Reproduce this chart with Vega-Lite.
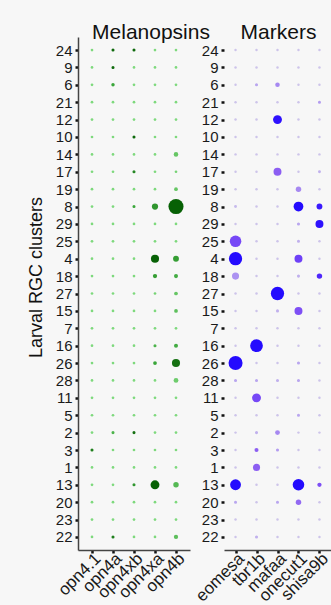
{
"$schema": "https://vega.github.io/schema/vega-lite/v6.json",
"background": "#f7f7f7",
"padding": {"left": 27, "top": 22, "right": 0, "bottom": 0},
"config": {"view": {"stroke": null}, "font": "Liberation Sans", "concat": {"spacing": 34},
  "axis": {"labelFontSize": 15, "labelColor": "#1a1a1a", "tickColor": "#111", "tickWidth": 2.5, "tickSize": 3, "domainColor": "#444", "domainWidth": 1.5, "labelPadding": 3, "grid": false},
  "title": {"fontSize": 21, "fontWeight": "normal", "color": "#111", "offset": -6}},
"datasets": {
"mel": [
{"c":"24","g":"opn4.1","p":1,"a":0.1},{"c":"24","g":"opn4a","p":2,"a":0.9},{"c":"24","g":"opn4xb","p":2,"a":0.9},{"c":"24","g":"opn4xa","p":1,"a":0.1},{"c":"24","g":"opn4b","p":1,"a":0.1},
{"c":"9","g":"opn4.1","p":1,"a":0.1},{"c":"9","g":"opn4a","p":2,"a":0.9},{"c":"9","g":"opn4xb","p":1,"a":0.1},{"c":"9","g":"opn4xa","p":1,"a":0.1},{"c":"9","g":"opn4b","p":1,"a":0.1},
{"c":"6","g":"opn4.1","p":1,"a":0.1},{"c":"6","g":"opn4a","p":3,"a":0.5},{"c":"6","g":"opn4xb","p":1,"a":0.1},{"c":"6","g":"opn4xa","p":1,"a":0.1},{"c":"6","g":"opn4b","p":1,"a":0.1},
{"c":"21","g":"opn4.1","p":1,"a":0.1},{"c":"21","g":"opn4a","p":1,"a":0.1},{"c":"21","g":"opn4xb","p":1,"a":0.1},{"c":"21","g":"opn4xa","p":1,"a":0.1},{"c":"21","g":"opn4b","p":1,"a":0.1},
{"c":"12","g":"opn4.1","p":1,"a":0.1},{"c":"12","g":"opn4a","p":1,"a":0.1},{"c":"12","g":"opn4xb","p":1,"a":0.1},{"c":"12","g":"opn4xa","p":1,"a":0.1},{"c":"12","g":"opn4b","p":1,"a":0.1},
{"c":"10","g":"opn4.1","p":1,"a":0.1},{"c":"10","g":"opn4a","p":1,"a":0.1},{"c":"10","g":"opn4xb","p":2,"a":0.9},{"c":"10","g":"opn4xa","p":1,"a":0.1},{"c":"10","g":"opn4b","p":1,"a":0.1},
{"c":"14","g":"opn4.1","p":1,"a":0.1},{"c":"14","g":"opn4a","p":1,"a":0.1},{"c":"14","g":"opn4xb","p":1,"a":0.1},{"c":"14","g":"opn4xa","p":1,"a":0.1},{"c":"14","g":"opn4b","p":7,"a":0.25},
{"c":"17","g":"opn4.1","p":1,"a":0.1},{"c":"17","g":"opn4a","p":1,"a":0.1},{"c":"17","g":"opn4xb","p":2,"a":0.7},{"c":"17","g":"opn4xa","p":1,"a":0.1},{"c":"17","g":"opn4b","p":1,"a":0.15},
{"c":"19","g":"opn4.1","p":1,"a":0.1},{"c":"19","g":"opn4a","p":1,"a":0.1},{"c":"19","g":"opn4xb","p":1,"a":0.1},{"c":"19","g":"opn4xa","p":1,"a":0.1},{"c":"19","g":"opn4b","p":4,"a":0.25},
{"c":"8","g":"opn4.1","p":1,"a":0.1},{"c":"8","g":"opn4a","p":1,"a":0.1},{"c":"8","g":"opn4xb","p":2,"a":0.5},{"c":"8","g":"opn4xa","p":15,"a":0.6},{"c":"8","g":"opn4b","p":99,"a":0.95},
{"c":"29","g":"opn4.1","p":1,"a":0.1},{"c":"29","g":"opn4a","p":1,"a":0.1},{"c":"29","g":"opn4xb","p":1,"a":0.1},{"c":"29","g":"opn4xa","p":1,"a":0.1},{"c":"29","g":"opn4b","p":1,"a":0.1},
{"c":"25","g":"opn4.1","p":1,"a":0.1},{"c":"25","g":"opn4a","p":1,"a":0.1},{"c":"25","g":"opn4xb","p":1,"a":0.1},{"c":"25","g":"opn4xa","p":1,"a":0.1},{"c":"25","g":"opn4b","p":1,"a":0.1},
{"c":"4","g":"opn4.1","p":1,"a":0.1},{"c":"4","g":"opn4a","p":1,"a":0.1},{"c":"4","g":"opn4xb","p":1,"a":0.1},{"c":"4","g":"opn4xa","p":27,"a":0.95},{"c":"4","g":"opn4b","p":13,"a":0.55},
{"c":"18","g":"opn4.1","p":1,"a":0.1},{"c":"18","g":"opn4a","p":1,"a":0.1},{"c":"18","g":"opn4xb","p":1,"a":0.1},{"c":"18","g":"opn4xa","p":6,"a":0.55},{"c":"18","g":"opn4b","p":5,"a":0.45},
{"c":"27","g":"opn4.1","p":1,"a":0.1},{"c":"27","g":"opn4a","p":1,"a":0.1},{"c":"27","g":"opn4xb","p":1,"a":0.1},{"c":"27","g":"opn4xa","p":1,"a":0.15},{"c":"27","g":"opn4b","p":4,"a":0.25},
{"c":"15","g":"opn4.1","p":1,"a":0.1},{"c":"15","g":"opn4a","p":1,"a":0.1},{"c":"15","g":"opn4xb","p":1,"a":0.1},{"c":"15","g":"opn4xa","p":1,"a":0.1},{"c":"15","g":"opn4b","p":4,"a":0.3},
{"c":"7","g":"opn4.1","p":1,"a":0.1},{"c":"7","g":"opn4a","p":1,"a":0.1},{"c":"7","g":"opn4xb","p":1,"a":0.1},{"c":"7","g":"opn4xa","p":1,"a":0.1},{"c":"7","g":"opn4b","p":1,"a":0.1},
{"c":"16","g":"opn4.1","p":1,"a":0.1},{"c":"16","g":"opn4a","p":1,"a":0.1},{"c":"16","g":"opn4xb","p":1,"a":0.1},{"c":"16","g":"opn4xa","p":2,"a":0.4},{"c":"16","g":"opn4b","p":5,"a":0.45},
{"c":"26","g":"opn4.1","p":1,"a":0.1},{"c":"26","g":"opn4a","p":1,"a":0.1},{"c":"26","g":"opn4xb","p":1,"a":0.1},{"c":"26","g":"opn4xa","p":4,"a":0.5},{"c":"26","g":"opn4b","p":27,"a":0.85},
{"c":"28","g":"opn4.1","p":1,"a":0.1},{"c":"28","g":"opn4a","p":1,"a":0.1},{"c":"28","g":"opn4xb","p":1,"a":0.1},{"c":"28","g":"opn4xa","p":1,"a":0.1},{"c":"28","g":"opn4b","p":8,"a":0.2},
{"c":"11","g":"opn4.1","p":1,"a":0.1},{"c":"11","g":"opn4a","p":1,"a":0.1},{"c":"11","g":"opn4xb","p":1,"a":0.1},{"c":"11","g":"opn4xa","p":1,"a":0.1},{"c":"11","g":"opn4b","p":1,"a":0.1},
{"c":"5","g":"opn4.1","p":1,"a":0.1},{"c":"5","g":"opn4a","p":1,"a":0.1},{"c":"5","g":"opn4xb","p":1,"a":0.1},{"c":"5","g":"opn4xa","p":1,"a":0.1},{"c":"5","g":"opn4b","p":1,"a":0.1},
{"c":"2","g":"opn4.1","p":1,"a":0.1},{"c":"2","g":"opn4a","p":2,"a":0.4},{"c":"2","g":"opn4xb","p":2,"a":0.85},{"c":"2","g":"opn4xa","p":1,"a":0.1},{"c":"2","g":"opn4b","p":1,"a":0.1},
{"c":"3","g":"opn4.1","p":2,"a":0.75},{"c":"3","g":"opn4a","p":1,"a":0.1},{"c":"3","g":"opn4xb","p":1,"a":0.1},{"c":"3","g":"opn4xa","p":1,"a":0.1},{"c":"3","g":"opn4b","p":1,"a":0.1},
{"c":"1","g":"opn4.1","p":1,"a":0.1},{"c":"1","g":"opn4a","p":1,"a":0.1},{"c":"1","g":"opn4xb","p":1,"a":0.1},{"c":"1","g":"opn4xa","p":1,"a":0.1},{"c":"1","g":"opn4b","p":1,"a":0.1},
{"c":"13","g":"opn4.1","p":1,"a":0.1},{"c":"13","g":"opn4a","p":1,"a":0.1},{"c":"13","g":"opn4xb","p":2,"a":0.6},{"c":"13","g":"opn4xa","p":33,"a":0.95},{"c":"13","g":"opn4b","p":11,"a":0.35},
{"c":"20","g":"opn4.1","p":1,"a":0.1},{"c":"20","g":"opn4a","p":1,"a":0.1},{"c":"20","g":"opn4xb","p":1,"a":0.1},{"c":"20","g":"opn4xa","p":1,"a":0.1},{"c":"20","g":"opn4b","p":1,"a":0.1},
{"c":"23","g":"opn4.1","p":1,"a":0.1},{"c":"23","g":"opn4a","p":1,"a":0.1},{"c":"23","g":"opn4xb","p":1,"a":0.1},{"c":"23","g":"opn4xa","p":1,"a":0.1},{"c":"23","g":"opn4b","p":1,"a":0.1},
{"c":"22","g":"opn4.1","p":1,"a":0.1},{"c":"22","g":"opn4a","p":2,"a":0.75},{"c":"22","g":"opn4xb","p":1,"a":0.1},{"c":"22","g":"opn4xa","p":1,"a":0.1},{"c":"22","g":"opn4b","p":6,"a":0.3}
],
"mark": [
{"c":"24","g":"eomesa","p":0.5,"a":0},{"c":"24","g":"tbr1b","p":0.5,"a":0},{"c":"24","g":"mafaa","p":0.5,"a":0},{"c":"24","g":"onecut1","p":0.5,"a":0},{"c":"24","g":"shisa9b","p":0.5,"a":0},
{"c":"9","g":"eomesa","p":0.5,"a":0},{"c":"9","g":"tbr1b","p":0.5,"a":0},{"c":"9","g":"mafaa","p":0.5,"a":0},{"c":"9","g":"onecut1","p":0.5,"a":0},{"c":"9","g":"shisa9b","p":0.5,"a":0},
{"c":"6","g":"eomesa","p":0.5,"a":0},{"c":"6","g":"tbr1b","p":2,"a":0.15},{"c":"6","g":"mafaa","p":7,"a":0.3},{"c":"6","g":"onecut1","p":0.5,"a":0},{"c":"6","g":"shisa9b","p":0.5,"a":0},
{"c":"21","g":"eomesa","p":0.5,"a":0},{"c":"21","g":"tbr1b","p":0.5,"a":0},{"c":"21","g":"mafaa","p":0.5,"a":0},{"c":"21","g":"onecut1","p":0.5,"a":0},{"c":"21","g":"shisa9b","p":2,"a":0.2},
{"c":"12","g":"eomesa","p":0.5,"a":0},{"c":"12","g":"tbr1b","p":0.5,"a":0},{"c":"12","g":"mafaa","p":33,"a":0.95},{"c":"12","g":"onecut1","p":0.5,"a":0},{"c":"12","g":"shisa9b","p":0.5,"a":0},
{"c":"10","g":"eomesa","p":0.5,"a":0},{"c":"10","g":"tbr1b","p":0.5,"a":0},{"c":"10","g":"mafaa","p":0.5,"a":0},{"c":"10","g":"onecut1","p":0.5,"a":0},{"c":"10","g":"shisa9b","p":0.5,"a":0},
{"c":"14","g":"eomesa","p":0.5,"a":0},{"c":"14","g":"tbr1b","p":0.5,"a":0},{"c":"14","g":"mafaa","p":0.5,"a":0},{"c":"14","g":"onecut1","p":0.5,"a":0},{"c":"14","g":"shisa9b","p":0.5,"a":0},
{"c":"17","g":"eomesa","p":0.5,"a":0},{"c":"17","g":"tbr1b","p":0.5,"a":0},{"c":"17","g":"mafaa","p":26,"a":0.5},{"c":"17","g":"onecut1","p":0.5,"a":0},{"c":"17","g":"shisa9b","p":1.5,"a":0.1},
{"c":"19","g":"eomesa","p":0.5,"a":0},{"c":"19","g":"tbr1b","p":0.5,"a":0},{"c":"19","g":"mafaa","p":0.5,"a":0},{"c":"19","g":"onecut1","p":11,"a":0.3},{"c":"19","g":"shisa9b","p":0.5,"a":0},
{"c":"8","g":"eomesa","p":1.5,"a":0.05},{"c":"8","g":"tbr1b","p":0.5,"a":0},{"c":"8","g":"mafaa","p":0.5,"a":0},{"c":"8","g":"onecut1","p":40,"a":0.97},{"c":"8","g":"shisa9b","p":13,"a":0.92},
{"c":"29","g":"eomesa","p":0.5,"a":0},{"c":"29","g":"tbr1b","p":0.5,"a":0},{"c":"29","g":"mafaa","p":0.5,"a":0},{"c":"29","g":"onecut1","p":2,"a":0.15},{"c":"29","g":"shisa9b","p":26,"a":0.95},
{"c":"25","g":"eomesa","p":57,"a":0.65},{"c":"25","g":"tbr1b","p":0.5,"a":0},{"c":"25","g":"mafaa","p":0.5,"a":0},{"c":"25","g":"onecut1","p":2,"a":0.1},{"c":"25","g":"shisa9b","p":0.5,"a":0},
{"c":"4","g":"eomesa","p":76,"a":0.97},{"c":"4","g":"tbr1b","p":0.5,"a":0},{"c":"4","g":"mafaa","p":0.5,"a":0},{"c":"4","g":"onecut1","p":26,"a":0.7},{"c":"4","g":"shisa9b","p":0.5,"a":0},
{"c":"18","g":"eomesa","p":20,"a":0.25},{"c":"18","g":"tbr1b","p":0.5,"a":0},{"c":"18","g":"mafaa","p":0.5,"a":0},{"c":"18","g":"onecut1","p":2,"a":0.1},{"c":"18","g":"shisa9b","p":11,"a":0.85},
{"c":"27","g":"eomesa","p":0.5,"a":0},{"c":"27","g":"tbr1b","p":0.5,"a":0},{"c":"27","g":"mafaa","p":76,"a":0.97},{"c":"27","g":"onecut1","p":0.5,"a":0},{"c":"27","g":"shisa9b","p":0.5,"a":0},
{"c":"15","g":"eomesa","p":0.5,"a":0},{"c":"15","g":"tbr1b","p":0.5,"a":0},{"c":"15","g":"mafaa","p":2,"a":0.1},{"c":"15","g":"onecut1","p":26,"a":0.6},{"c":"15","g":"shisa9b","p":0.5,"a":0},
{"c":"7","g":"eomesa","p":0.5,"a":0},{"c":"7","g":"tbr1b","p":0.5,"a":0},{"c":"7","g":"mafaa","p":0.5,"a":0},{"c":"7","g":"onecut1","p":0.5,"a":0},{"c":"7","g":"shisa9b","p":0.5,"a":0},
{"c":"16","g":"eomesa","p":0.5,"a":0},{"c":"16","g":"tbr1b","p":70,"a":0.97},{"c":"16","g":"mafaa","p":0.5,"a":0},{"c":"16","g":"onecut1","p":0.5,"a":0},{"c":"16","g":"shisa9b","p":0.5,"a":0},
{"c":"26","g":"eomesa","p":85,"a":0.97},{"c":"26","g":"tbr1b","p":0.5,"a":0},{"c":"26","g":"mafaa","p":0.5,"a":0},{"c":"26","g":"onecut1","p":2,"a":0.15},{"c":"26","g":"shisa9b","p":0.5,"a":0},
{"c":"28","g":"eomesa","p":2,"a":0.15},{"c":"28","g":"tbr1b","p":2,"a":0.15},{"c":"28","g":"mafaa","p":2,"a":0.1},{"c":"28","g":"onecut1","p":2,"a":0.15},{"c":"28","g":"shisa9b","p":0.5,"a":0},
{"c":"11","g":"eomesa","p":0.5,"a":0},{"c":"11","g":"tbr1b","p":33,"a":0.65},{"c":"11","g":"mafaa","p":0.5,"a":0},{"c":"11","g":"onecut1","p":0.5,"a":0},{"c":"11","g":"shisa9b","p":0.5,"a":0},
{"c":"5","g":"eomesa","p":0.5,"a":0},{"c":"5","g":"tbr1b","p":0.5,"a":0},{"c":"5","g":"mafaa","p":0.5,"a":0},{"c":"5","g":"onecut1","p":2,"a":0.15},{"c":"5","g":"shisa9b","p":0.5,"a":0},
{"c":"2","g":"eomesa","p":0.5,"a":0},{"c":"2","g":"tbr1b","p":2,"a":0.1},{"c":"2","g":"mafaa","p":8,"a":0.3},{"c":"2","g":"onecut1","p":0.5,"a":0},{"c":"2","g":"shisa9b","p":0.5,"a":0},
{"c":"3","g":"eomesa","p":0.5,"a":0},{"c":"3","g":"tbr1b","p":5,"a":0.5},{"c":"3","g":"mafaa","p":2,"a":0.2},{"c":"3","g":"onecut1","p":0.5,"a":0},{"c":"3","g":"shisa9b","p":0.5,"a":0},
{"c":"1","g":"eomesa","p":0.5,"a":0},{"c":"1","g":"tbr1b","p":20,"a":0.5},{"c":"1","g":"mafaa","p":0.5,"a":0},{"c":"1","g":"onecut1","p":0.5,"a":0},{"c":"1","g":"shisa9b","p":0.5,"a":0},
{"c":"13","g":"eomesa","p":50,"a":0.97},{"c":"13","g":"tbr1b","p":0.5,"a":0},{"c":"13","g":"mafaa","p":0.5,"a":0},{"c":"13","g":"onecut1","p":57,"a":0.97},{"c":"13","g":"shisa9b","p":6,"a":0.6},
{"c":"20","g":"eomesa","p":2,"a":0.15},{"c":"20","g":"tbr1b","p":0.5,"a":0},{"c":"20","g":"mafaa","p":2,"a":0.15},{"c":"20","g":"onecut1","p":11,"a":0.45},{"c":"20","g":"shisa9b","p":0.5,"a":0},
{"c":"23","g":"eomesa","p":0.5,"a":0},{"c":"23","g":"tbr1b","p":0.5,"a":0},{"c":"23","g":"mafaa","p":0.5,"a":0},{"c":"23","g":"onecut1","p":0.5,"a":0},{"c":"23","g":"shisa9b","p":0.5,"a":0},
{"c":"22","g":"eomesa","p":0.5,"a":0},{"c":"22","g":"tbr1b","p":2,"a":0.1},{"c":"22","g":"mafaa","p":0.5,"a":0},{"c":"22","g":"onecut1","p":0.5,"a":0},{"c":"22","g":"shisa9b","p":0.5,"a":0}
]},
"bounds": "flush",
"hconcat": [
{"data": {"name": "mel"}, "width": 112, "height": 513,
 "title": {"text": "Melanopsins", "dx": 17},
 "mark": {"type": "circle", "opacity": 1},
 "encoding": {
  "x": {"field": "g", "type": "nominal", "sort": ["opn4.1","opn4a","opn4xb","opn4xa","opn4b"], "scale": {"padding": 0.667},
        "axis": {"title": null, "labelAngle": -45, "labelFontSize": 17, "labelPadding": -3, "domain": true}},
  "y": {"field": "c", "type": "ordinal", "sort": ["24","9","6","21","12","10","14","17","19","8","29","25","4","18","27","15","7","16","26","28","11","5","2","3","1","13","20","23","22"], "scale": {"padding": 0.75},
        "axis": {"title": "Larval RGC clusters", "titleFontSize": 18, "titleFontWeight": "normal", "titleColor": "#111", "titlePadding": 10, "titleY": 240, "domain": true}},
  "size": {"field": "p", "type": "quantitative", "scale": {"type": "linear", "domain": [0, 100], "range": [5, 230], "zero": false}, "legend": null},
  "color": {"field": "a", "type": "quantitative", "scale": {"domain": [0, 0.5, 1], "range": ["#8ee68e", "#3aa63a", "#005a00"]}, "legend": null}
 }},
{"data": {"name": "mark"}, "width": 107, "height": 513,
 "title": {"text": "Markers", "dx": 1},
 "mark": {"type": "circle", "opacity": 1},
 "encoding": {
  "x": {"field": "g", "type": "nominal", "sort": ["eomesa","tbr1b","mafaa","onecut1","shisa9b"], "scale": {"padding": 0.55},
        "axis": {"title": null, "labelAngle": -45, "labelFontSize": 17, "labelPadding": -3, "domain": true}},
  "y": {"field": "c", "type": "ordinal", "sort": ["24","9","6","21","12","10","14","17","19","8","29","25","4","18","27","15","7","16","26","28","11","5","2","3","1","13","20","23","22"], "scale": {"padding": 0.75},
        "axis": {"title": null, "domain": false}},
  "size": {"field": "p", "type": "quantitative", "scale": {"type": "linear", "domain": [0, 100], "range": [5, 230], "zero": false}, "legend": null},
  "color": {"field": "a", "type": "quantitative", "scale": {"domain": [0, 0.5, 1], "range": ["#cdc4ea", "#8c5ef2", "#0a00ff"]}, "legend": null}
 }}
],
"resolve": {"scale": {"x": "independent", "y": "shared", "color": "independent", "size": "independent"}}
}
